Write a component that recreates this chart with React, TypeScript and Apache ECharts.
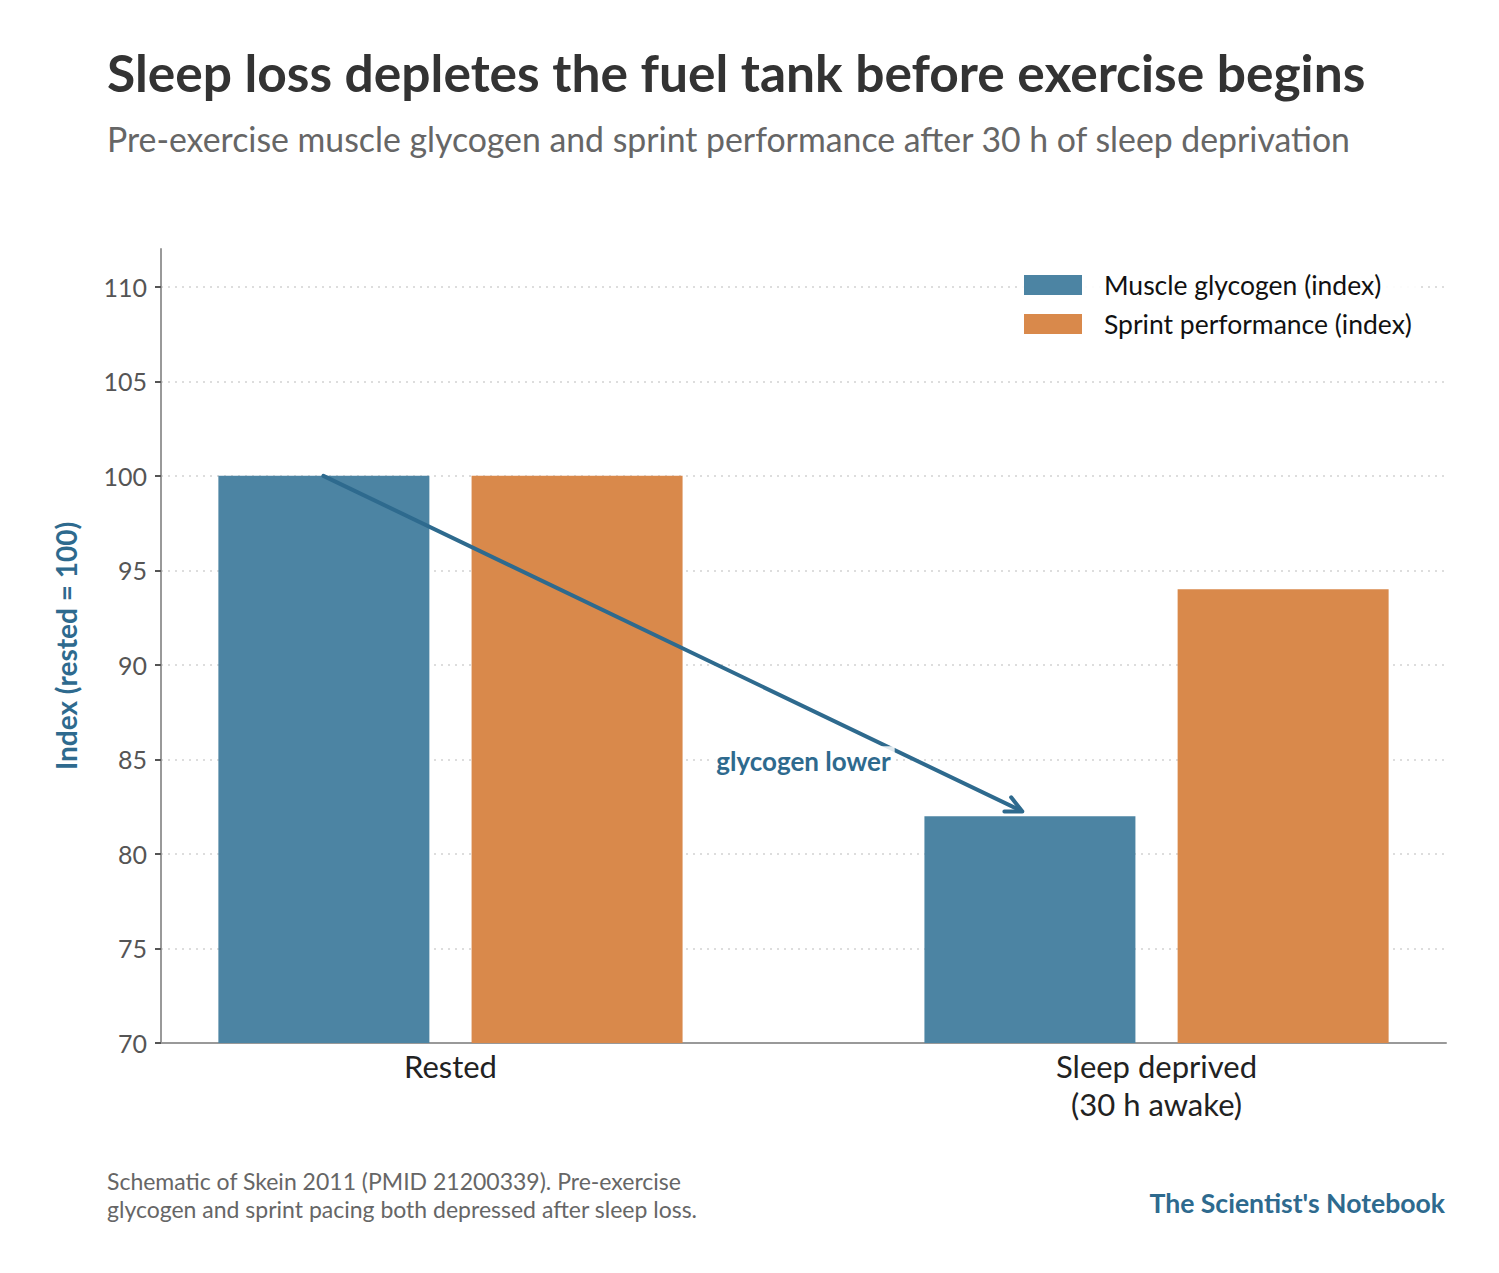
import { useEffect, useRef } from 'react';
import * as echarts from 'echarts';

const categories = ['Rested', 'Sleep deprived\n(30 h awake)'];
const categoryPos = [0, 1];
const glycogen = [100, 82];
const sprint = [100, 94];
const yTicks = [70, 75, 80, 85, 90, 95, 100, 105, 110];
// arrow: from rested glycogen bar top to just above sleep-deprived glycogen bar
const arrow = [[-0.18, 100, 0.81, 82.25]];
const note = [[0.5, 84.9, 'glycogen lower']];

const BLUE = '#4c84a3';
const ORANGE = '#d9894b';
const INK = '#2e6a8e';
const FONT = 'Lato';

export default function App() {
  const ref = useRef<HTMLDivElement>(null);
  useEffect(() => {
    if (!ref.current) return;
    const chart = echarts.init(ref.current, undefined, { renderer: 'svg' });
    chart.setOption({
      animation: false,
      backgroundColor: '#fff',
      textStyle: { fontFamily: FONT },
      grid: { left: 161, right: 53, top: 249, bottom: 230 },
      legend: {
        orient: 'vertical',
        left: 1019,
        top: 264,
        z: 10,
        itemWidth: 58,
        itemHeight: 20,
        itemGap: 7,
        icon: 'rect',
        backgroundColor: 'rgba(255,255,255,0.9)',
        textStyle: { fontSize: 26.5, lineHeight: 32, color: '#111', padding: [0, 0, 0, 17] },
        data: ['Muscle glycogen (index)', 'Sprint performance (index)'],
      },
      graphic: [
        {
          type: 'text',
          left: 107,
          top: 46,
          style: {
            text: 'Sleep loss depletes the fuel tank before exercise begins',
            font: `bold 51.5px ${FONT}`,
            fill: '#333',
          },
        },
        {
          type: 'text',
          left: 107,
          top: 122,
          style: {
            text: 'Pre-exercise muscle glycogen and sprint performance after 30 h of sleep deprivation',
            font: `33.8px ${FONT}`,
            fill: '#666',
          },
        },
        {
          type: 'text',
          left: 107,
          top: 1167,
          style: {
            text: 'Schematic of Skein 2011 (PMID 21200339). Pre-exercise\nglycogen and sprint pacing both depressed after sleep loss.',
            font: `23px ${FONT}`,
            lineHeight: 28,
            fill: '#666',
          },
        },
        {
          type: 'text',
          right: 54,
          top: 1189,
          style: {
            text: "The Scientist's Notebook",
            font: `bold 26.6px ${FONT}`,
            fill: INK,
          },
        },
      ],
      xAxis: {
        type: 'value',
        min: -0.41,
        max: 1.41,
        axisLine: { onZero: false, lineStyle: { color: '#999', width: 2 } },
        axisTick: { show: false },
        splitLine: { show: false },
        axisLabel: {
          customValues: categoryPos,
          formatter: (v: number) => categories[categoryPos.indexOf(v)] ?? '',
          fontSize: 31,
          color: '#222',
          lineHeight: 38,
          margin: 4,
        },
      },
      yAxis: {
        type: 'value',
        min: 70,
        max: 112,
        axisLine: { show: true, onZero: false, lineStyle: { color: '#999', width: 2 } },
        axisTick: { show: true, customValues: yTicks, length: 6, lineStyle: { color: '#555', width: 2 } },
        axisLabel: { customValues: yTicks, fontSize: 25, color: '#555', margin: 14 },
        splitLine: { show: false },
        name: 'Index (rested = 100)',
        nameLocation: 'middle',
        nameGap: 81,
        nameTextStyle: { fontSize: 28, fontWeight: 'bold', color: INK },
      },
      series: [
        {
          type: 'line',
          data: [],
          z: 0,
          silent: true,
          markLine: {
            z: 0,
            silent: true,
            symbol: 'none',
            label: { show: false },
            lineStyle: { color: '#ddd', type: [2, 5], width: 2 },
            data: yTicks.slice(1).map((t) => ({ yAxis: t })),
          },
        },
        {
          name: 'Muscle glycogen (index)',
          type: 'bar',
          z: 2,
          barWidth: 211,
          barGap: '20%',
          itemStyle: { color: BLUE },
          data: categoryPos.map((x, i) => [x, glycogen[i]]),
        },
        {
          name: 'Sprint performance (index)',
          type: 'bar',
          z: 2,
          barWidth: 211,
          barGap: '20%',
          itemStyle: { color: ORANGE },
          data: categoryPos.map((x, i) => [x, sprint[i]]),
        },
        {
          type: 'custom',
          z: 5,
          silent: true,
          data: arrow,
          renderItem: (params: any, api: any) => {
            const a = api.coord([api.value(0), api.value(1)]);
            const b = api.coord([api.value(2), api.value(3)]);
            const ang = Math.atan2(b[1] - a[1], b[0] - a[0]);
            const L = 18;
            const w = 0.45;
            const p1 = [b[0] - L * Math.cos(ang - w), b[1] - L * Math.sin(ang - w)];
            const p2 = [b[0] - L * Math.cos(ang + w), b[1] - L * Math.sin(ang + w)];
            return {
              type: 'group',
              children: [
                {
                  type: 'line',
                  shape: { x1: a[0], y1: a[1], x2: b[0] - 2 * Math.cos(ang), y2: b[1] - 2 * Math.sin(ang) },
                  style: { stroke: INK, lineWidth: 4, lineCap: 'round' },
                },
                {
                  type: 'polyline',
                  shape: { points: [p1, b, p2] },
                  style: { stroke: INK, lineWidth: 4, fill: 'none', lineJoin: 'round', lineCap: 'round' },
                },
              ],
            };
          },
        },
        {
          type: 'custom',
          z: 6,
          silent: true,
          data: note,
          renderItem: (params: any, api: any) => {
            const p = api.coord([api.value(0), api.value(1)]);
            return {
              type: 'text',
              x: p[0],
              y: p[1],
              style: {
                text: note[params.dataIndex][2],
                font: `bold 26px ${FONT}`,
                fill: INK,
                align: 'center',
                verticalAlign: 'middle',
                backgroundColor: 'rgba(255,255,255,0.85)',
                padding: [2, 4],
              },
            };
          },
        },
      ],
    });
    return () => chart.dispose();
  }, []);
  return (
    <div
      ref={ref}
      style={{ position: 'absolute', left: 0, top: 0, width: 1499, height: 1273 }}
    />
  );
}
